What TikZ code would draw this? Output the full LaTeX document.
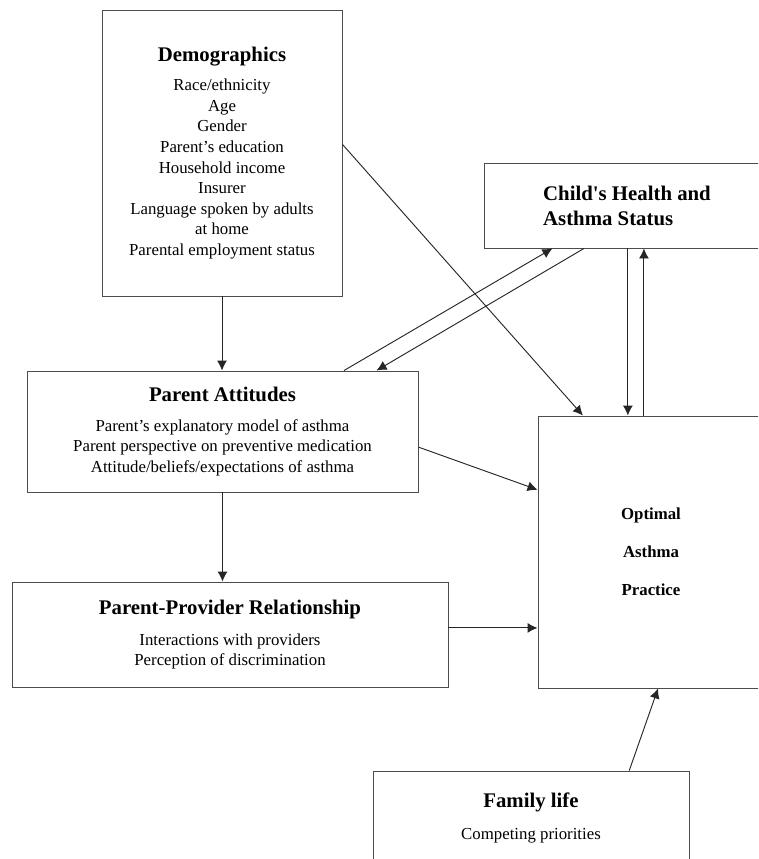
\documentclass[tikz,border=0pt]{standalone}
\usepackage{fontspec}
\setmainfont{Liberation Serif}
\usetikzlibrary{calc,arrows.meta}

\newcommand{\boxtitle}[1]{{\fontsize{15.6}{19}\selectfont\bfseries #1}}

\begin{document}
\begin{tikzpicture}[x=0.75pt,y=-0.75pt]

      \useasboundingbox (0,0) rectangle (758,859);
      \clip (0,0) rectangle (758,859);

      \begin{scope}[every node/.style={draw=black!70,line width=0.7pt,align=center,inner sep=0pt,
          font=\fontsize{12.6}{15.4}\selectfont}]
        \node[minimum width=180pt,minimum height=214.5pt] (demo) at (222,153)
          {\boxtitle{Demographics}\\[6.5pt] Race/ethnicity\\ Age\\ Gender\\ Parent’s education\\
           Household income\\ Insurer\\ Language spoken by adults\\ at home\\ Parental employment status};
        \node[minimum width=214.5pt,minimum height=63.75pt,align=left,
          font=\fontsize{15.6}{18.75}\selectfont\bfseries] (child) at (627,205.5)
          {Child\textquotesingle s Health and\\ Asthma Status};
        \node[minimum width=293.25pt,minimum height=90.75pt] (att) at (222.5,431.5)
          {\boxtitle{Parent Attitudes}\\[7pt] Parent’s explanatory model of asthma\\
           Parent perspective on preventive medication\\ Attitude/beliefs/expectations of asthma};
        \node[minimum width=169.5pt,minimum height=204pt,
          font=\fontsize{12.6}{28.5}\selectfont\bfseries] (opt) at (651,552)
          {Optimal\\ Asthma\\ Practice};
        \node[minimum width=327pt,minimum height=78.75pt] (ppr) at (230,634.5)
          {\boxtitle{Parent-Provider Relationship}\\[8pt] Interactions with providers\\
           Perception of discrimination};
        \node[minimum width=237pt,minimum height=70.5pt] (fam) at (531,818)
          {\boxtitle{Family life}\\[8.5pt] Competing priorities};
      \end{scope}

      % points on the box borders
      \coordinate (demoE)  at ($(demo.north east)!0.47!(demo.south east)$);
      \coordinate (attN1)  at ($(att.north west)!0.81!(att.north east)$);
      \coordinate (attN2)  at ($(att.north west)!0.893!(att.north east)$);
      \coordinate (attE)   at ($(att.north east)!0.628!(att.south east)$);
      \coordinate (childS1) at ($(child.south west)!0.24!(child.south east)$);
      \coordinate (childS2) at ($(child.south west)!0.35!(child.south east)$);
      \coordinate (childS3) at ($(child.south west)!0.503!(child.south east)$);
      \coordinate (childS4) at ($(child.south west)!0.559!(child.south east)$);
      \coordinate (optN)   at ($(opt.north west)!0.2!(opt.north east)$);
      \coordinate (optW)   at ($(opt.north west)!0.272!(opt.south west)$);
      \coordinate (optS)   at ($(opt.south west)!0.531!(opt.south east)$);
      \coordinate (pprE)   at ($(ppr.north east)!0.438!(ppr.south east)$);
      \coordinate (famN)   at ($(fam.north west)!0.81!(fam.north east)$);

      \begin{scope}[every edge/.style={draw=black!85,line width=0.7pt,-{Latex[length=7.5pt,width=7.5pt]}}]
        \path (demo.south) edge (demo.south |- att.north);
        \path (demoE) edge (optN);
        \path (attN1) edge (childS1);
        \path (childS2) edge (attN2);
        \path (childS3) edge (childS3 |- opt.north);
        \path (childS4 |- opt.north) edge (childS4);
        \path (attE) edge (optW);
        \path (att.south) edge (att.south |- ppr.north);
        \path (pprE) edge (pprE -| opt.west);
        \path (famN) edge (optS);
      \end{scope}

    \end{tikzpicture}
\end{document}
